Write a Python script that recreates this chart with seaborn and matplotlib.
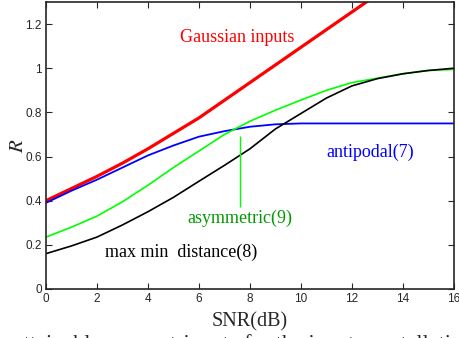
import numpy as np
import pandas as pd
import matplotlib
matplotlib.use('Agg')
import matplotlib.pyplot as plt
import seaborn as sns

snr_db = [0, 1, 2, 3, 4, 5, 6, 7, 8, 9, 10, 11, 12, 13, 14, 15, 16]

gaussian = [0.40, 0.455, 0.51, 0.57, 0.635, 0.705, 0.775, 0.855, 0.935, 1.015,
            1.095, 1.175, 1.255, 1.335, 1.415, 1.495, 1.575]
antipodal = [0.39, 0.445, 0.495, 0.55, 0.605, 0.65, 0.69, 0.715, 0.735, 0.746,
             0.75, 0.75, 0.75, 0.75, 0.75, 0.75, 0.75]
asymmetric = [0.235, 0.28, 0.33, 0.395, 0.47, 0.55, 0.625, 0.70, 0.76, 0.81,
              0.856, 0.90, 0.935, 0.955, 0.975, 0.99, 0.995]
maxmin = [0.16, 0.195, 0.235, 0.29, 0.35, 0.415, 0.488, 0.56, 0.635, 0.725,
          0.795, 0.865, 0.92, 0.953, 0.975, 0.99, 1.0]

series = ['Gaussian inputs', 'antipodal(7)', 'asymmetric(9)', 'max min  distance(8)']
colors = ['#ff0000', '#0000ff', '#00ff00', '#000000']
widths = [2.3, 1.3, 1.2, 1.2]

# where the series names sit (data coords)
label_pos = [(7.5, 1.14), (12.7, 0.62), (7.6, 0.32), (5.3, 0.165)]
label_colors = ['#ff0000', '#0000ff', '#009900', '#000000']

# pointer from the asymmetric label up to its curve
pointer_x = 7.63
pointer_y = (0.37, 0.695)

df = pd.DataFrame({
    'snr': snr_db * 4,
    'R': gaussian + antipodal + asymmetric + maxmin,
    'curve': np.repeat(series, len(snr_db)),
})

sns.set_style('ticks')
plt.rcParams['font.family'] = ['Liberation Sans', 'DejaVu Sans']
plt.rcParams['mathtext.fontset'] = 'stix'

fig = plt.figure(figsize=(4.59, 3.38), dpi=100)
ax = fig.add_axes([0.1, 0.145, 0.889, 0.849])

for name, c, lw in zip(series, colors, widths):
    sns.lineplot(data=df[df['curve'] == name], x='snr', y='R', color=c,
                 linewidth=lw, ax=ax, legend=False)

ax.vlines(pointer_x, pointer_y[0], pointer_y[1], color='#00ff00', linewidth=1.0)

for name, (x, y), c in zip(series, label_pos, label_colors):
    ax.text(x, y, name, color=c, ha='center', va='center', fontsize=13,
            family='Liberation Serif')

ax.set_xlim(0, 16)
ax.set_ylim(0, 1.3)
ax.set_xticks(np.arange(0, 17, 2))
ax.set_yticks([0, 0.2, 0.4, 0.6, 0.8, 1.0, 1.2])
ax.set_yticklabels(['0', '0.2', '0.4', '0.6', '0.8', '1', '1.2'])
ax.tick_params(direction='in', top=True, right=True, labelsize=8.5,
               length=4, width=0.8, pad=3)
for s in ax.spines.values():
    s.set_linewidth(1.2)

ax.set_xlabel('SNR(dB)', fontsize=14.5, family='Liberation Serif', labelpad=5)
ax.set_ylabel('$R$', fontsize=15, labelpad=-1)

# caption of the figure below, only its top shows
fig.text(0.03, -0.034, 'attainable symmetric rate for the input constellations',
         fontsize=16, family='Liberation Serif', ha='left', va='baseline')

fig.savefig('out.png', dpi=100)
